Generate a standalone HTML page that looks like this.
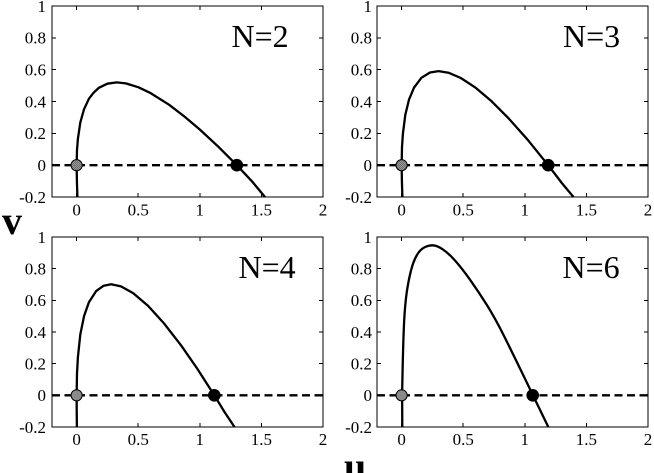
<!DOCTYPE html>
<html>
<head>
<meta charset="utf-8">
<style>
html,body{margin:0;padding:0;background:#fff;}
svg{display:block;}
</style>
</head>
<body>
<svg width="654" height="473" viewBox="0 0 654 473" xmlns="http://www.w3.org/2000/svg" font-family="'Liberation Serif', 'DejaVu Serif', serif">
<defs>
<pattern id="chk" width="2" height="2" patternUnits="userSpaceOnUse">
<rect width="2" height="2" fill="#9a9a9a"/>
<rect width="1" height="1" fill="#6a6a6a"/>
<rect x="1" y="1" width="1" height="1" fill="#6a6a6a"/>
</pattern>
</defs>

<g fill="none" stroke="#000" stroke-width="1" shape-rendering="crispEdges">
<rect x="52" y="6" width="271" height="191"/>
<rect x="377" y="6" width="271" height="191"/>
<rect x="52" y="237" width="271" height="190"/>
<rect x="377" y="237" width="271" height="190"/>
</g>

<g stroke="#000" stroke-width="1" shape-rendering="crispEdges">
<path d="M76.6 6v4M138.2 6v4M199.8 6v4M261.4 6v4M76.6 197v-4M138.2 197v-4M199.8 197v-4M261.4 197v-4"/>
<path d="M52 165.2h4M52 133.4h4M52 101.5h4M52 69.7h4M52 37.8h4M323 165.2h-4M323 133.4h-4M323 101.5h-4M323 69.7h-4M323 37.8h-4"/>
<path d="M401.6 6v4M463.2 6v4M524.8 6v4M586.4 6v4M401.6 197v-4M463.2 197v-4M524.8 197v-4M586.4 197v-4"/>
<path d="M377 165.2h4M377 133.4h4M377 101.5h4M377 69.7h4M377 37.8h4M648 165.2h-4M648 133.4h-4M648 101.5h-4M648 69.7h-4M648 37.8h-4"/>
<path d="M76.6 237v4M138.2 237v4M199.8 237v4M261.4 237v4M76.6 427v-4M138.2 427v-4M199.8 427v-4M261.4 427v-4"/>
<path d="M52 395.3h4M52 363.6h4M52 332h4M52 300.3h4M52 268.7h4M323 395.3h-4M323 363.6h-4M323 332h-4M323 300.3h-4M323 268.7h-4"/>
<path d="M401.6 237v4M463.2 237v4M524.8 237v4M586.4 237v4M401.6 427v-4M463.2 427v-4M524.8 427v-4M586.4 427v-4"/>
<path d="M377 395.3h4M377 363.6h4M377 332h4M377 300.3h4M377 268.7h4M648 395.3h-4M648 363.6h-4M648 332h-4M648 300.3h-4M648 268.7h-4"/>
</g>

<g font-size="17" text-anchor="end" fill="#000" font-family="'Liberation Serif', serif">
<text x="46" y="11.8">1</text>
<text x="46" y="43.6">0.8</text>
<text x="46" y="75.5">0.6</text>
<text x="46" y="107.3">0.4</text>
<text x="46" y="139.2">0.2</text>
<text x="46" y="171">0</text>
<text x="46" y="202.8">-0.2</text>
<text x="372" y="11.8">1</text>
<text x="372" y="43.6">0.8</text>
<text x="372" y="75.5">0.6</text>
<text x="372" y="107.3">0.4</text>
<text x="372" y="139.2">0.2</text>
<text x="372" y="171">0</text>
<text x="372" y="202.8">-0.2</text>
<text x="46" y="242.8">1</text>
<text x="46" y="274.5">0.8</text>
<text x="46" y="306.1">0.6</text>
<text x="46" y="337.8">0.4</text>
<text x="46" y="369.4">0.2</text>
<text x="46" y="401.1">0</text>
<text x="46" y="432.8">-0.2</text>
<text x="372" y="242.8">1</text>
<text x="372" y="274.5">0.8</text>
<text x="372" y="306.1">0.6</text>
<text x="372" y="337.8">0.4</text>
<text x="372" y="369.4">0.2</text>
<text x="372" y="401.1">0</text>
<text x="372" y="432.8">-0.2</text>
</g>

<g font-size="17" text-anchor="middle" fill="#000" font-family="'Liberation Serif', serif">
<text x="76.6" y="215.5">0</text>
<text x="138.2" y="215.5">0.5</text>
<text x="199.8" y="215.5">1</text>
<text x="261.4" y="215.5">1.5</text>
<text x="323" y="215.5">2</text>
<text x="401.6" y="215.5">0</text>
<text x="463.2" y="215.5">0.5</text>
<text x="524.8" y="215.5">1</text>
<text x="586.4" y="215.5">1.5</text>
<text x="648" y="215.5">2</text>
<text x="76.6" y="445">0</text>
<text x="138.2" y="445">0.5</text>
<text x="199.8" y="445">1</text>
<text x="261.4" y="445">1.5</text>
<text x="323" y="445">2</text>
<text x="401.6" y="445">0</text>
<text x="463.2" y="445">0.5</text>
<text x="524.8" y="445">1</text>
<text x="586.4" y="445">1.5</text>
<text x="648" y="445">2</text>
</g>

<g stroke="#000" stroke-width="2.3" stroke-dasharray="8 4.5" fill="none">
<path d="M52 165.2H323"/>
<path d="M377 165.2H648"/>
<path d="M52 395.3H323"/>
<path d="M377 395.3H648"/>
</g>

<g stroke="#000" stroke-width="2.3" fill="none" stroke-linejoin="round" stroke-linecap="butt">
<polyline points="77.4,197 76.9,181 76.64,165.2 77.0,150.1 77.9,138.8 80.3,122.5 84.0,109.3 88.9,98.8 93.5,92.8 98.8,87.8 107.4,83.7 116.7,82.4 125.9,83.4 138.2,87.2 150.6,93.1 169.0,104.7 184.4,116.5 199.8,129.5 218.3,146.7 236.8,165.2 251.6,180.9 265,197"/>
<polyline points="402.4,197 401.9,181 401.64,165.2 402.0,147.2 402.9,133.8 405.3,114.9 409.0,99.6 414.0,87.7 421.4,77.8 430.0,72.5 438.6,71.1 448.5,72.7 460.8,78.0 475.6,87.7 491.6,101.3 508.8,118.6 527.3,139.3 548.2,165.2 561.8,183.0 573.5,197"/>
<polyline points="76.9,427 76.7,410 76.64,395.3 77.0,373.5 77.9,357.3 80.3,334.5 84.0,316.3 88.9,302.2 96.3,290.9 103.7,285.7 111.1,284.3 121.0,286.4 133.3,293.2 148.1,305.9 164.1,323.5 181.4,345.8 197.4,368.9 214.3,395.3 224.5,412.0 234.5,427"/>
<path d="M402.3 427 L402.2 410 L402.1 394.7 L402.6 370 Q403.3 338 404.15 321.35 Q405 304.7 406.65 293 Q408.3 281.3 410.8 271.3 Q413.3 261.3 416.65 255.5 Q420 249.7 424.15 247.5 Q428.3 245.3 432.5 245.3 Q436.7 245.3 442.5 249.15 Q448.3 253 455 260.5 Q461.7 268 470 279.65 Q478.3 291.3 486.65 304.65 Q495 318 503.35 334.65 Q511.7 351.3 522.2 373 L532.7 394.7 L548.3 427"/>
</g>

<g stroke="#000" stroke-width="1">
<circle cx="76.6" cy="165.2" r="5.6" fill="url(#chk)"/>
<circle cx="401.6" cy="165.2" r="5.6" fill="url(#chk)"/>
<circle cx="76.6" cy="395.3" r="5.6" fill="#8a8a8a"/>
<circle cx="401.6" cy="395.3" r="5.6" fill="#8a8a8a"/>
<circle cx="236.8" cy="165.2" r="5.8" fill="#000"/>
<circle cx="548.2" cy="165.2" r="5.8" fill="#000"/>
<circle cx="214.3" cy="395.3" r="5.8" fill="#000"/>
<circle cx="532.7" cy="395.3" r="5.8" fill="#000"/>
</g>

<g font-size="32" fill="#000" font-family="'Liberation Serif', serif">
<text x="231.5" y="47">N=2</text>
<text x="563" y="47">N=3</text>
<text x="238.5" y="278">N=4</text>
<text x="562.5" y="278">N=6</text>
</g>

<text x="2" y="234" font-size="40" font-weight="bold" fill="#000" font-family="'Liberation Serif', serif">v</text>
<text x="344" y="480" font-size="40" font-weight="bold" fill="#000" font-family="'Liberation Serif', serif">u</text>
</svg>
</body>
</html>
